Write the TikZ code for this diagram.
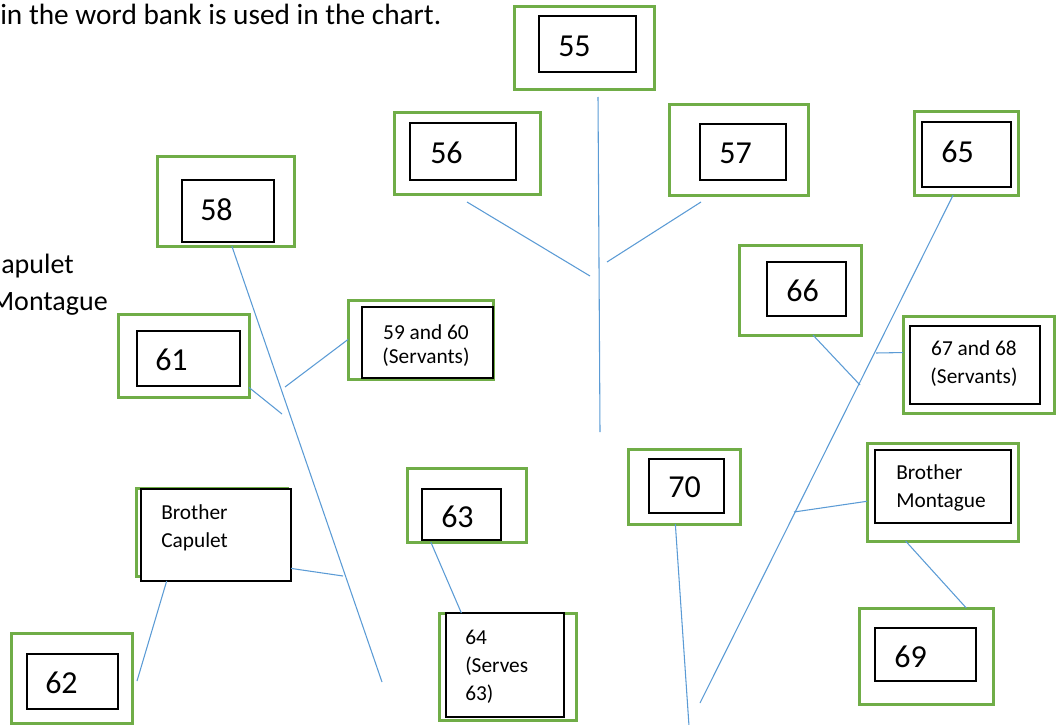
\documentclass[tikz,border=0pt]{standalone}
\usepackage{fontspec}
\setmainfont{Carlito}
\usetikzlibrary{fit}
\definecolor{framegreen}{HTML}{70AD47}
\definecolor{twigblue}{HTML}{5B9BD5}
\tikzset{
  gframe/.style={draw=framegreen, line width=2.25pt, inner sep=0pt, outer sep=0pt},
  ibox/.style={draw=black, line width=1.1pt, fill=white, inner sep=0pt, outer sep=0pt},
  num/.style={anchor=west, inner sep=0pt, font=\fontsize{24}{28}\selectfont},
  names/.style={inner sep=0pt, font=\fontsize{16}{21}\selectfont},
  prose/.style={inner sep=0pt, font=\fontsize{22}{26}\selectfont},
  twig/.style={draw=twigblue, line width=0.8pt},
}

\begin{document}
\begin{tikzpicture}[x=0.75pt, y=-0.75pt]
\useasboundingbox (0,0) rectangle (1059,724);
\clip (0,0) rectangle (1059,724);

% ---- text at the left edge ----
\node[prose, anchor=base west] at (0,24.5) (wordbank) {in the word bank is used in the chart.};
\node[prose, anchor=base east, font=\fontsize{21}{25}\selectfont] at (74,273) (legcap) {apulet};
\node[prose, anchor=base east, font=\fontsize{21}{25}\selectfont] at (108,310) (legmon) {Montague};

% ---- centre: 55, 56, 57 ----
\node[gframe, fit={(514,7) (654,89)}]    (g55) {};
\node[ibox,   fit={(539,16) (636,72)}]   (b55) {};
\node[num] at (558,46) (t55) {55};
\node[gframe, fit={(394,112) (540,194)}] (g56) {};
\node[ibox,   fit={(410,123) (516,180)}] (b56) {};
\node[num] at (430,153) (t56) {56};
\node[gframe, fit={(669,104) (808,195)}] (g57) {};
\node[ibox,   fit={(700,124) (786,180)}] (b57) {};
\node[num] at (719,153) (t57) {57};

% ---- Capulet side ----
\node[gframe, fit={(157,156) (294,246)}] (g58) {};
\node[ibox,   fit={(182,180) (274,242)}] (b58) {};
\node[num] at (200,210) (t58) {58};
\node[gframe, fit={(118,314) (249,397)}] (g61) {};
\node[ibox,   fit={(137,331) (240,386)}] (b61) {};
\node[num] at (155,360) (t61) {61};
\node[gframe, fit={(348,300) (493,379)}] (g5960) {};
\node[ibox,   fit={(362,307) (493,378)}] (b5960) {};
\node[names, align=center, font=\fontsize{16}{18}\selectfont] at (426,346) (t5960) {59 and 60\\(Servants)};
\node[gframe, fit={(136,488) (287,576)}] (gBC) {};
\node[ibox,   fit={(141,489) (291,581)}] (bBC) {};
\node[names, align=left, anchor=west] at (161,528) (tBC) {Brother\\Capulet};
\node[gframe, fit={(11,633) (132,723)}]  (g62) {};
\node[ibox,   fit={(27,654) (118,709)}]  (b62) {};
\node[num] at (45,683) (t62) {62};
\node[gframe, fit={(407,468) (526,542)}] (g63) {};
\node[ibox,   fit={(422,489) (501,540)}] (b63) {};
\node[num] at (441,517) (t63) {63};
\node[gframe, fit={(439,613) (576,720)}] (g64) {};
\node[ibox,   fit={(446,613) (564,717)}] (b64) {};
\node[names, align=left, anchor=west] at (465,667) (t64) {64\\(Serves\\63)};

% ---- Montague side ----
\node[gframe, fit={(914,111) (1018,195)}] (g65) {};
\node[ibox,   fit={(922,122) (1011,187)}] (b65) {};
\node[num] at (941,152) (t65) {65};
\node[gframe, fit={(739,245) (861,335)}]  (g66) {};
\node[ibox,   fit={(767,262) (846,316)}]  (b66) {};
\node[num] at (786,291) (t66) {66};
\node[gframe, fit={(903,316) (1054,413)}] (g6768) {};
\node[ibox,   fit={(910,326) (1040,404)}] (b6768) {};
\node[names, align=center] at (974,364) (t6768) {67 and 68\\(Servants)};
\node[gframe, fit={(867,443) (1018,541)}] (gBM) {};
\node[ibox,   fit={(875,450) (1011,523)}] (bBM) {};
\node[names, align=left, anchor=west] at (896,488) (tBM) {Brother\\Montague};
\node[gframe, fit={(859,608) (993,704)}]  (g69) {};
\node[ibox,   fit={(875,628) (976,681)}]  (b69) {};
\node[num] at (894,657) (t69) {69};
\node[gframe, fit={(628,449) (740,524)}]  (g70) {};
\node[ibox,   fit={(649,459) (724,513)}]  (b70) {};
\node[num] at (668,487) (t70) {70};

% ---- free ends of the lines ----
\coordinate (midtop)   at (598,97);
\coordinate (midfoot)  at (600,432);
\coordinate (twig56a)  at (467,202);
\coordinate (twig56b)  at (590,276);
\coordinate (twig57a)  at (701,202);
\coordinate (twig57b)  at (607,262);
\coordinate (capfoot)  at (382,682);
\coordinate (capknotA) at (282,414);
\coordinate (capknotB) at (285,387);
\coordinate (capknotC) at (343,576);
\coordinate (end62)    at (137,681);
\coordinate (monfoot)  at (700,703);
\coordinate (monknotA) at (860,385);
\coordinate (monknotB) at (876,353);
\coordinate (monknotC) at (794,512);
\coordinate (foot70)   at (689,726);

% centre
\draw[twig] (midtop) -- (midfoot);
\draw[twig] (twig56a) -- (twig56b);
\draw[twig] (twig57a) -- (twig57b);
% Capulet
\draw[twig] (g58.-82) -- (capfoot);
\draw[twig] (g61.-26) -- (capknotA);
\draw[twig] (g5960.west) -- (capknotB);
\draw[twig] (bBC.-24) -- (capknotC);
\draw[twig] (bBC.-137) -- (end62);
\draw[twig] (g63.-134) -- (b64.130);
% Montague
\draw[twig] (g65.-107) -- (monfoot);
\draw[twig] (g66.-74) -- (monknotA);
\draw[twig] (monknotB) -- (g6768.171);
\draw[twig] (gBM.187) -- (monknotC);
\draw[twig] (gBM.-127) -- (g69.50);
\draw[twig] (g70.-103) -- (foot70);
\end{tikzpicture}
\end{document}
